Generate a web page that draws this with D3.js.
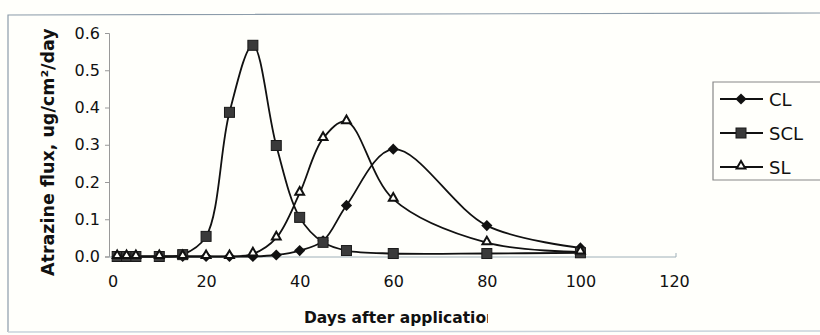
<!DOCTYPE html>
<meta charset="utf-8">
<title>Atrazine flux</title>
<script src="https://d3js.org/d3.v7.min.js"></script>
<style>
	body { margin: 0; background: #fffffb; }
	svg { display: block; }
	text { font-family: "DejaVu Sans", Verdana, sans-serif; fill: #111; }
</style>
<div id="chart"></div>
<script>

var days = [1, 3, 5, 10, 15, 20, 25, 30, 35, 40, 45, 50, 60, 80, 100];
var cl  = [0, 0, 0, 0, 0, 0, 0, 0, 0.004, 0.016, 0.042, 0.137, 0.288, 0.083, 0.023];
var scl = [0, 0, 0, 0, 0.005, 0.054, 0.387, 0.567, 0.298, 0.105, 0.038, 0.016, 0.008, 0.008, 0.01];
var sl  = [0, 0, 0, 0, 0, 0, 0, 0.007, 0.05, 0.17, 0.317, 0.362, 0.154, 0.037, 0.012];
var seriesNames = ["CL", "SCL", "SL"];
var xTicks = [0, 20, 40, 60, 80, 100, 120];
var yTicks = [0, 0.1, 0.2, 0.3, 0.4, 0.5, 0.6];

var width = 820, height = 335;

var svg = d3.select("#chart").append("svg")
	.attr("width", width)
	.attr("height", height);

// chart area border (scanned, faint)
svg.append("path")
	.attr("d", "M8,332 L8,15 L820,13")
	.attr("fill", "none")
	.attr("stroke", "#8c9caa")
	.attr("stroke-width", 1.2);
svg.append("line")
	.attr("x1", 8).attr("x2", 820).attr("y1", 332).attr("y2", 331)
	.attr("stroke", "#c9d3dc").attr("stroke-width", 1.5);

var x = d3.scaleLinear().domain([0, 120]).range([112.5, 674]);
var y = d3.scaleLinear().domain([0, 0.6]).range([256.5, 33]);

// y axis
var yAxis = svg.append("g")
	.attr("transform", "translate(109,0)")
	.call(d3.axisLeft(y).tickValues(yTicks).tickFormat(d3.format(".1f")).tickSize(4).tickPadding(5));
yAxis.select(".domain").attr("stroke", "#999");
yAxis.selectAll(".tick line").attr("stroke", "#999");
yAxis.selectAll(".tick text").attr("font-size", 16).attr("font-family", "DejaVu Sans");

// x axis
var xAxis = svg.append("g")
	.attr("transform", "translate(0,257)")
	.call(d3.axisBottom(x).tickValues(xTicks).tickSize(0).tickPadding(19));
xAxis.select(".domain").attr("stroke", "#9fb0b8").attr("d", "M109,0H676V-4");
xAxis.selectAll(".tick text").attr("font-size", 16).attr("font-family", "DejaVu Sans");

// axis titles, clipped like the scan
var defs = svg.append("defs");
defs.append("clipPath").attr("id", "clipY")
	.append("rect").attr("x", 0).attr("y", 29).attr("width", 100).attr("height", 300);
defs.append("clipPath").attr("id", "clipX")
	.append("rect").attr("x", 0).attr("y", 290).attr("width", 488).attr("height", 45);

svg.append("g").attr("clip-path", "url(#clipY)")
	.append("text")
	.attr("transform", "translate(54,276) rotate(-90)")
	.attr("font-size", 17.5)
	.attr("font-weight", "bold")
	.text("Atrazine flux, ug/cm²/day");

svg.append("g").attr("clip-path", "url(#clipX)")
	.append("text")
	.attr("x", 304)
	.attr("y", 323)
	.attr("font-size", 15.5)
	.attr("font-weight", "bold")
	.text("Days after application");

// lines
var series = [cl, scl, sl];
var line = d3.line()
	.x(function(d, i) { return x(days[i]); })
	.y(function(d) { return y(d); })
	.curve(d3.curveCatmullRom.alpha(0.5));

var plot = svg.append("g");
series.forEach(function(s) {
	plot.append("path")
		.datum(s)
		.attr("d", line)
		.attr("fill", "none")
		.attr("stroke", "#111")
		.attr("stroke-width", 1.8);
});

function marker(g, type, cx, cy) {
	if (type === 0) {
		g.append("path")
			.attr("d", d3.symbol(d3.symbolDiamond2, 80)())
			.attr("transform", "translate(" + cx + "," + cy + ")")
			.attr("fill", "#111");
	} else if (type === 1) {
		g.append("rect")
			.attr("x", cx - 5).attr("y", cy - 5)
			.attr("width", 10).attr("height", 10)
			.attr("fill", "#3a3a3a")
			.attr("stroke", "#1a1a1a").attr("stroke-width", 1);
	} else {
		g.append("path")
			.attr("d", d3.symbol(d3.symbolTriangle2, 55)())
			.attr("transform", "translate(" + cx + "," + (cy - 1) + ")")
			.attr("fill", "#fffffb")
			.attr("stroke", "#111").attr("stroke-width", 2);
	}
}

series.forEach(function(s, k) {
	s.forEach(function(v, i) {
		marker(plot, k, x(days[i]), y(v));
	});
});

// legend
var legend = svg.append("g");
legend.append("path")
	.attr("d", "M820,82H713V180H820")
	.attr("fill", "none")
	.attr("stroke", "#888")
	.attr("stroke-width", 1.2);

seriesNames.forEach(function(name, k) {
	var ly = 99 + k * 34;
	legend.append("line")
		.attr("x1", 720).attr("x2", 763)
		.attr("y1", ly).attr("y2", ly)
		.attr("stroke", "#111").attr("stroke-width", 1.8);
	marker(legend, k, 741, ly);
	legend.append("text")
		.attr("x", 769)
		.attr("y", ly + 6.5)
		.attr("font-size", 18)
		.text(name);
});

</script>
